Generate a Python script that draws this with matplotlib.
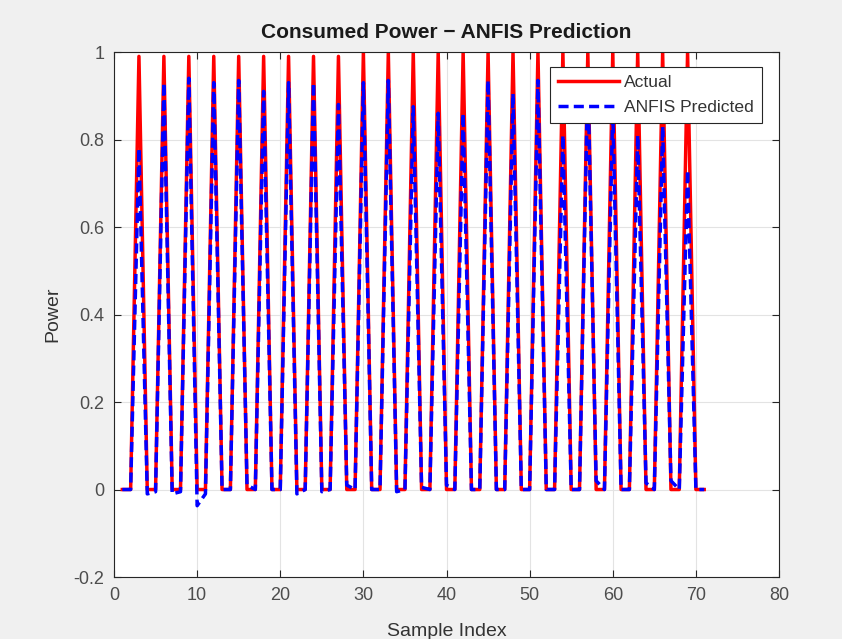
import numpy as np
import matplotlib.pyplot as plt

plt.rcParams['font.family'] = ['Liberation Sans', 'DejaVu Sans']

# --- Data ---
sample_index = np.arange(1, 72)

# peaks every third sample (3, 6, ..., 69)
peak_idx = np.arange(3, 70, 3)
actual_peaks = [0.99, 0.99, 0.99, 0.99, 0.99, 0.99, 0.99, 0.99, 0.99, 1.0, 1.0, 1.0,
                1.0, 1.0, 1.0, 1.0, 1.0, 1.0, 1.0, 1.0, 1.0, 1.0, 1.0]
pred_peaks = [0.78, 0.93, 0.94, 0.93, 0.935, 0.91, 0.93, 0.93, 0.88, 0.93, 0.935, 0.875,
              0.86, 0.86, 0.935, 0.905, 0.935, 0.81, 0.95, 0.87, 0.81, 0.83, 0.73]

# predicted values at the non-peak samples (small residuals)
pred_low = {1: 0.0, 2: 0.0, 4: -0.01, 5: -0.005, 7: -0.01, 8: -0.005, 10: -0.037, 11: -0.01,
            13: 0.0, 14: 0.0, 16: 0.01, 17: 0.0, 19: 0.0, 20: 0.0, 22: -0.01, 23: 0.0,
            25: -0.005, 26: 0.0, 28: 0.01, 29: 0.0, 31: 0.0, 32: 0.0, 34: -0.005, 35: 0.0,
            37: 0.005, 38: 0.0, 40: 0.01, 41: 0.0, 43: 0.0, 44: 0.0, 46: 0.0, 47: 0.0,
            49: 0.0, 50: 0.0, 52: 0.0, 53: 0.0, 55: 0.0, 56: 0.0, 58: 0.02, 59: 0.0,
            61: 0.0, 62: 0.0, 64: 0.015, 65: 0.0, 67: 0.02, 68: 0.0, 70: 0.0, 71: 0.0}

actual = np.zeros(len(sample_index))
predicted = np.zeros(len(sample_index))
for k, v in pred_low.items():
    predicted[k - 1] = v
for k, a, p in zip(peak_idx, actual_peaks, pred_peaks):
    actual[k - 1] = a
    predicted[k - 1] = p

# --- Plot ---
fig = plt.figure(figsize=(8.42, 6.39), dpi=100, facecolor='#f0f0f0')
ax = fig.add_axes([0.1354, 0.097, 0.7898, 0.8216])
ax.set_facecolor('white')

ax.plot(sample_index, actual, color='red', linewidth=2.5, label='Actual')
ax.plot(sample_index, predicted, color='blue', linestyle='--', linewidth=2.5,
        dashes=(2.9, 1.5), label='ANFIS Predicted')

ax.set_xlim(0, 80)
ax.set_ylim(-0.2, 1)
ax.set_xticks(np.arange(0, 81, 10))
ax.set_yticks([-0.2, 0, 0.2, 0.4, 0.6, 0.8, 1])
ax.set_yticklabels(['-0.2', '0', '0.2', '0.4', '0.6', '0.8', '1'])
ax.grid(True, color='#e3e3e3', linewidth=0.8)
ax.set_axisbelow(True)
ax.tick_params(direction='in', top=True, right=True, labelsize=13, colors='#262626',
               labelcolor='#4d4d4d', length=5, pad=7)
for s in ax.spines.values():
    s.set_color('#262626')
    s.set_linewidth(0.8)

ax.set_title('Consumed Power \u2212 ANFIS Prediction', fontsize=15, fontweight='bold',
             color='#1a1a1a', pad=10)
ax.set_xlabel('Sample Index', fontsize=14, color='#333333', labelpad=14)
ax.set_ylabel('Power', fontsize=14, color='#333333', labelpad=9)

leg = ax.legend(loc='upper right', fontsize=12.6, fancybox=False, framealpha=1,
                edgecolor='#262626', borderpad=0.45, handlelength=3.5, handletextpad=0.3,
                labelspacing=0.55, borderaxespad=0, bbox_to_anchor=(0.9744, 0.9714))
leg.get_frame().set_linewidth(0.8)
for t in leg.get_texts():
    t.set_color('#333333')

fig.savefig('out.png', dpi=100, facecolor=fig.get_facecolor())
